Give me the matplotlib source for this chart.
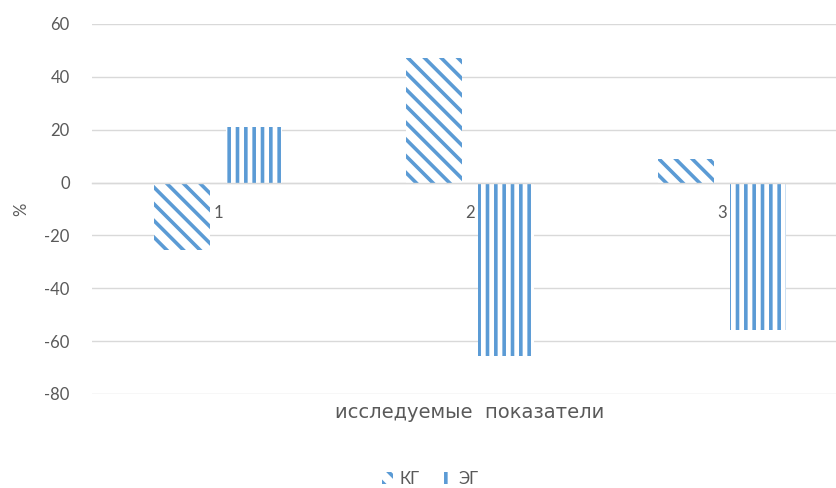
import numpy as np
import matplotlib
matplotlib.use('Agg')
import matplotlib.pyplot as plt

plt.rcParams['font.family'] = ['Lato', 'DejaVu Sans']
plt.rcParams['hatch.linewidth'] = 2.6
plt.rcParams['hatch.color'] = '#5b9bd5'

cats = ['1', '2', '3']
kg = [-25.5, 47.3, 9.0]
eg = [21.0, -65.5, -55.7]
yticks = [-80, -60, -40, -20, 0, 20, 40, 60]

blue = '#5b9bd5'
grey = '#595959'
grid = '#d9d9d9'

W, H = 837, 488
fig = plt.figure(figsize=(W / 100, H / 100), dpi=100)
ax = fig.add_axes([92 / W, 1 - 394 / H, 1 - 92 / W, (394 - 24) / H])

x = np.arange(1, len(cats) + 1)
bw = 0.222
off = 0.143
ax.bar(x - off, kg, bw, color='white', edgecolor=blue, linewidth=0, hatch='\\\\', label='КГ')
ax.bar(x + off, eg, bw, color='white', edgecolor=blue, linewidth=0, hatch='||', label='ЭГ')

ax.set_ylim(-80, 60)
ax.set_xlim(0.5, 0.5 + (W - 92) / 252)
ax.set_yticks(yticks)
ax.set_yticklabels([str(v) for v in yticks])
ax.tick_params(axis='y', length=0, pad=16, labelsize=12, labelcolor=grey)
ax.yaxis.grid(True, color=grid, linewidth=1.0)
ax.set_axisbelow(True)

for s in ['left', 'right', 'top']:
    ax.spines[s].set_visible(False)
ax.spines['bottom'].set_position(('data', 0))
ax.spines['bottom'].set_color(grid)
ax.spines['bottom'].set_linewidth(1.0)
ax.set_xticks(x)
ax.set_xticklabels(cats)
ax.tick_params(axis='x', length=0, pad=16, labelsize=12, labelcolor=grey)

fig.text(21 / W, 1 - 209 / H, '%', rotation=90, ha='center', va='center',
         fontsize=12, color=grey)

fig.text(470 / W, 1 - 413 / H, 'исследуемые  показатели', ha='center', va='center',
         fontsize=14, color=grey, family=['DejaVu Sans'])

fig.legend(loc='center', bbox_to_anchor=(430 / W, 1 - 479 / H), ncol=2, frameon=False,
           fontsize=12, labelcolor=grey, handlelength=0.7, handleheight=0.7,
           handletextpad=0.4, columnspacing=1.2)

fig.savefig('out.png', dpi=100)
